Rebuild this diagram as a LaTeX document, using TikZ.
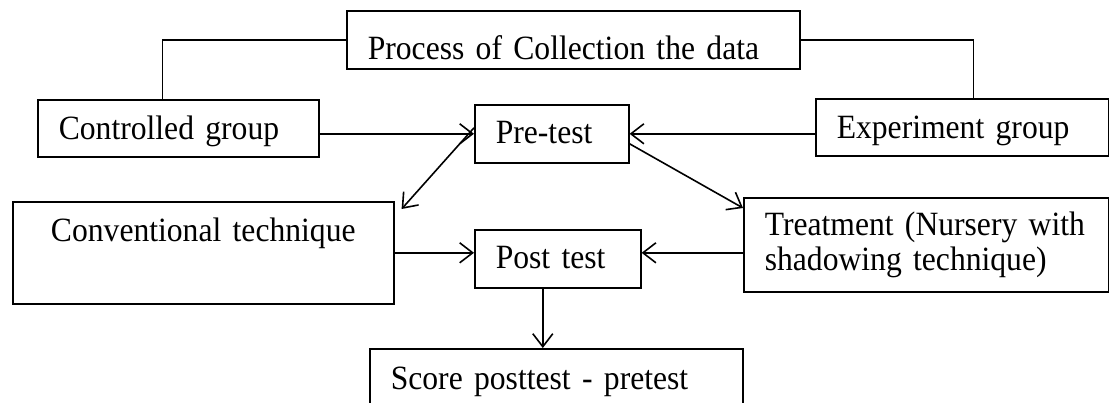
\documentclass[tikz,border=0pt]{standalone}
\usepackage{fontspec}
\setmainfont{Liberation Serif}[FakeStretch=0.93,WordSpace=0.8]
\usetikzlibrary{arrows.meta}

\begin{document}
\begin{tikzpicture}[x=1pt,y=-1pt,
	stage/.style={draw, line width=1.6pt, inner xsep=21pt, inner ysep=0pt, anchor=north west, align=left, font=\fontsize{34}{35}\selectfont},
	link/.style={line width=1.6pt},
	flow/.style={line width=1.6pt, -{Straight Barb[length=13pt,width=20pt]}}]
			%%%%% START %%%%%
			\useasboundingbox (0,0) rectangle (1109,402);
			
			\node[stage, text width=411pt, text height=49pt, text depth=9pt] (proc) at (346,10) {Process of Collection the data};
			
			\node[stage, text width=239pt, text height=40pt, text depth=17pt] (ctrl) at (37,99) {Controlled group};
			\node[stage, text width=112pt, text height=39pt, text depth=19pt] (pre) at (474,104) {Pre-test};
			\node[stage, text width=251pt, text height=40pt, text depth=17pt] (expt) at (815,98) {Experiment group};
			
			\node[stage, align=center, text width=339pt, text height=40pt, text depth=62pt] (conv) at (12,201) {Conventional technique};
			\node[stage, text width=124pt, text height=39pt, text depth=19pt] (post) at (474,229) {Post test};
			\node[stage, text width=323pt, minimum height=94pt] (treat) at (743,197) {Treatment (Nursery with\\shadowing technique)};
			
			\node[stage, text width=331pt, text height=41pt, text depth=30pt] (score) at (369,348) {Score posttest - pretest};
			
			\draw[link] (proc.west) -| ([xshift=-16pt]ctrl.north);
			\draw[link] (proc.east) -| ([xshift=11pt]expt.north);
			
			\draw[flow] (ctrl.east |- pre.west) -- (pre.west);
			\draw[flow] (expt.west |- pre.east) -- (pre.east);
			\draw[flow] ([yshift=6pt]pre.west) -- ([shift={(7pt,-8pt)}]conv.north east);
			\draw[flow] ([yshift=-10pt]pre.east) -- ([yshift=-11pt]treat.north west);
			
			\draw[flow] (conv.east) -- (conv.east -| post.west);
			\draw[flow] (conv.east -| treat.west) -- (conv.east -| post.east);
			\draw[flow] ([xshift=-15pt]post.south) -- ([xshift=-15pt]post.south |- score.north);
			%%%%% END %%%%%
\end{tikzpicture}
\end{document}
